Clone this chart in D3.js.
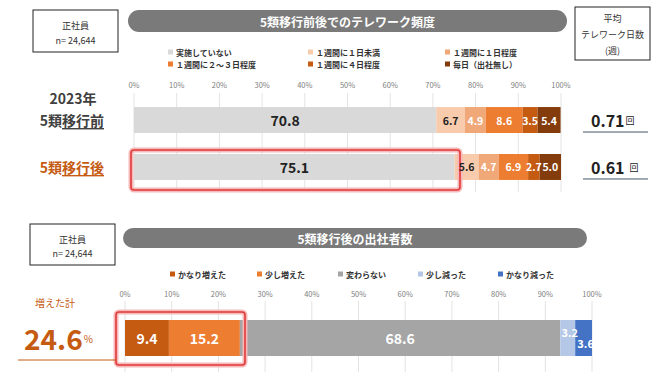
<!DOCTYPE html>
<html>
<head>
<meta charset="utf-8">
<script src="https://cdn.jsdelivr.net/npm/d3@7"></script>
<style>
  body { margin: 0; background: #fff; }
  text { font-family: "Noto Sans CJK JP", "Noto Sans", sans-serif; }
</style>
</head>
<body>
<div id="chart"></div>
<script>
// telework frequency, before / after category 5
var freqCats = ['実施していない', '１週間に１日未満', '１週間に１日程度', '１週間に２～３日程度', '１週間に４日程度', '毎日（出社無し）'];
var freqColors = ['#d9d9d9', '#f8cbad', '#f0a878', '#ed7d31', '#c55a11', '#843c0c'];
var freqRows = ['5類移行前', '5類移行後'];
var freqBefore = [70.8, 6.7, 4.9, 8.6, 3.5, 5.4];
var freqAfter = [75.1, 5.6, 4.7, 6.9, 2.7, 5.0];
var avgDays = ['0.71', '0.61'];

// office attendance after category 5
var officeCats = ['かなり増えた', '少し増えた', '変わらない', '少し減った', 'かなり減った'];
var officeColors = ['#c55a11', '#ed7d31', '#a5a5a5', '#b4c7e7', '#4472c4'];
var officeVals = [9.4, 15.2, 68.6, 3.2, 3.6];
var increasedTotal = '24.6';

var ticks = [0, 10, 20, 30, 40, 50, 60, 70, 80, 90, 100];

var W = 670, H = 382;
var svg = d3.select('#chart').append('svg')
    .attr('width', W)
    .attr('height', H);

function stack(vals) {
    var acc = 0;
    return vals.map(function(v, i) {
        var d = {i: i, v: v, x0: acc, x1: acc + v};
        acc += v;
        return d;
    });
}

function infoBox(x, y, w, h, lines, dy) {
    svg.append('rect')
        .attr('x', x).attr('y', y).attr('width', w).attr('height', h)
        .style('fill', '#fff').style('stroke', '#222').style('stroke-width', 1);
    lines.forEach(function(t, i) {
        svg.append('text')
            .attr('x', x + w / 2)
            .attr('y', y + dy[i])
            .attr('text-anchor', 'middle')
            .attr('dominant-baseline', 'central')
            .style('font-size', '9px')
            .style('fill', '#333')
            .text(t);
    });
}

function pill(x, y, w, h, label) {
    svg.append('rect')
        .attr('x', x).attr('y', y).attr('width', w).attr('height', h)
        .attr('rx', h / 2)
        .style('fill', '#7a7a7a');
    svg.append('text')
        .attr('x', x + w / 2).attr('y', y + h / 2)
        .attr('text-anchor', 'middle')
        .attr('dominant-baseline', 'central')
        .style('font-size', '12px')
        .style('font-weight', 'bold')
        .style('fill', '#fff')
        .text(label);
}

function highlight(x, y, w, h) {
    var g = svg.append('g');
    g.append('rect')
        .attr('x', x).attr('y', y).attr('width', w).attr('height', h)
        .attr('rx', 3)
        .style('fill', 'none').style('stroke', '#f6b8b8').style('stroke-width', 5);
    g.append('rect')
        .attr('x', x).attr('y', y).attr('width', w).attr('height', h)
        .attr('rx', 3)
        .style('fill', 'none').style('stroke', '#e03a3a').style('stroke-width', 1.6);
    return g;
}

function axis(x, labelY, y0, y1) {
    var g = svg.append('g');
    g.selectAll('line')
        .data(ticks).enter().append('line')
        .attr('x1', function(d) { return x(d); })
        .attr('x2', function(d) { return x(d); })
        .attr('y1', y0).attr('y2', y1)
        .style('stroke', '#e3e3e3').style('stroke-width', 1);
    g.selectAll('text')
        .data(ticks).enter().append('text')
        .attr('x', function(d) { return x(d); })
        .attr('y', labelY)
        .attr('text-anchor', 'middle')
        .attr('dominant-baseline', 'central')
        .style('font-size', '7.5px')
        .style('fill', '#808080')
        .text(function(d) { return d + '%'; });
}

function legend(items, colors, xs, ys) {
    items.forEach(function(t, i) {
        svg.append('rect')
            .attr('x', xs[i]).attr('y', ys[i] - 2.5)
            .attr('width', 5).attr('height', 5)
            .style('fill', colors[i]);
        svg.append('text')
            .attr('x', xs[i] + 8).attr('y', ys[i])
            .attr('dominant-baseline', 'central')
            .style('font-size', '8px')
            .style('font-weight', 'bold')
            .style('fill', '#333')
            .text(t);
    });
}

// ---------- top section ----------
infoBox(33, 10, 85, 42, ['正社員', 'n= 24,644'], [15, 30]);
infoBox(575, 7, 75, 53, ['平均', 'テレワーク日数', '(週)'], [11, 27, 43]);
pill(128, 10, 439, 22, '5類移行前後でのテレワーク頻度');

legend(freqCats, freqColors,
    [168, 308, 445, 168, 308, 445],
    [52, 52, 52, 64, 64, 64]);

var x1 = d3.scaleLinear().domain([0, 100]).range([134, 561]);
var y1 = d3.scaleBand().domain(freqRows).range([100, 187]).paddingInner(0.447).paddingOuter(0.15);

axis(x1, 84, 93, 192);

var topLabels = [];
[freqBefore, freqAfter].forEach(function(vals, r) {
    var row = freqRows[r];
    var g = svg.append('g');
    var segs = stack(vals);
    g.selectAll('rect')
        .data(segs).enter().append('rect')
        .attr('x', function(d) { return x1(d.x0); })
        .attr('width', function(d) { return x1(d.x1) - x1(d.x0); })
        .attr('y', y1(row))
        .attr('height', y1.bandwidth())
        .style('fill', function(d) { return freqColors[d.i]; });
    var lg = svg.append('g');
    lg.selectAll('text')
        .data(segs).enter().append('text')
        .attr('x', function(d) { return (x1(d.x0) + x1(d.x1)) / 2; })
        .attr('y', y1(row) + y1.bandwidth() / 2)
        .attr('text-anchor', 'middle')
        .attr('dominant-baseline', 'central')
        .style('font-size', function(d) { return d.i === 0 ? '14px' : '10.5px'; })
        .style('font-weight', 'bold')
        .style('fill', function(d) { return d.i <= 1 ? '#222' : '#fff'; })
        .text(function(d) { return d.v.toFixed(1); });
    topLabels.push(lg);

    // average telework days
    var cy = y1(row) + y1.bandwidth() / 2;
    var t = svg.append('text')
        .attr('x', 591).attr('y', cy)
        .attr('dominant-baseline', 'central')
        .style('font-size', '16px')
        .style('font-weight', 'bold')
        .style('fill', '#222');
    t.append('tspan').text(avgDays[r]);
    t.append('tspan')
        .attr('dx', r === 0 ? 1 : 5)
        .style('font-size', '9px')
        .style('font-weight', 'normal')
        .text('回');
    svg.append('line')
        .attr('x1', 583).attr('x2', 648)
        .attr('y1', cy + 12).attr('y2', cy + 12)
        .style('stroke', '#44546a').style('stroke-width', 1);

    // row label
    var lab = svg.append('text')
        .attr('x', 104).attr('y', cy)
        .attr('text-anchor', 'end')
        .attr('dominant-baseline', 'central')
        .style('font-size', '14px')
        .style('font-weight', 'bold')
        .style('fill', r === 0 ? '#404040' : '#c55a11');
    lab.append('tspan').text(row.slice(0, 2));
    lab.append('tspan').style('text-decoration', 'underline').text(row.slice(2));
});

svg.append('text')
    .attr('x', 73).attr('y', 98)
    .attr('text-anchor', 'middle')
    .attr('dominant-baseline', 'central')
    .style('font-size', '14px')
    .style('font-weight', 'bold')
    .style('fill', '#404040')
    .text('2023年');

highlight(131, 150, 329, 40);
topLabels.forEach(function(g) { g.raise(); });

// ---------- bottom section ----------
infoBox(30, 224, 85, 41, ['正社員', 'n= 24,644'], [15, 29]);
pill(123, 228, 464, 20, '5類移行後の出社者数');

legend(officeCats, officeColors, [170, 257, 338, 418, 498], [274, 274, 274, 274, 274]);

var x2 = d3.scaleLinear().domain([0, 100]).range([125, 592]);
var barY = 320, barH = 36;

axis(x2, 293, 301, 372);

var segs2 = stack(officeVals);
svg.append('g').selectAll('rect')
    .data(segs2).enter().append('rect')
    .attr('x', function(d) { return x2(d.x0); })
    .attr('width', function(d) { return x2(d.x1) - x2(d.x0); })
    .attr('y', barY)
    .attr('height', barH)
    .style('fill', function(d) { return officeColors[d.i]; });

// small segments get nudged labels like the original
var labelShift = [[0, 0], [0, 0], [0, 0], [2, -6], [2, 5]];
svg.append('g').selectAll('text')
    .data(segs2).enter().append('text')
    .attr('x', function(d) { return (x2(d.x0) + x2(d.x1)) / 2 + labelShift[d.i][0]; })
    .attr('y', function(d) { return barY + barH / 2 + labelShift[d.i][1]; })
    .attr('text-anchor', 'middle')
    .attr('dominant-baseline', 'central')
    .style('font-size', function(d) { return d.v < 5 ? '11px' : '14px'; })
    .style('font-weight', 'bold')
    .style('fill', '#fff')
    .text(function(d) { return d.v.toFixed(1); });

highlight(116, 312, 129, 53);

svg.append('text')
    .attr('x', 55).attr('y', 302)
    .attr('text-anchor', 'middle')
    .attr('dominant-baseline', 'central')
    .style('font-size', '10px')
    .style('fill', '#c55a11')
    .text('増えた計');

var tot = svg.append('text')
    .attr('x', 24).attr('y', 338)
    .attr('dominant-baseline', 'central')
    .style('font-size', '28px')
    .style('font-weight', 'bold')
    .style('fill', '#c55a11');
tot.append('tspan').text(increasedTotal);
tot.append('tspan').attr('dx', 1).style('font-size', '10px').style('font-weight', 'normal').text('%');

svg.append('line')
    .attr('x1', 18).attr('x2', 116)
    .attr('y1', 360).attr('y2', 360)
    .style('stroke', '#c55a11').style('stroke-width', 1);
</script>
</body>
</html>
